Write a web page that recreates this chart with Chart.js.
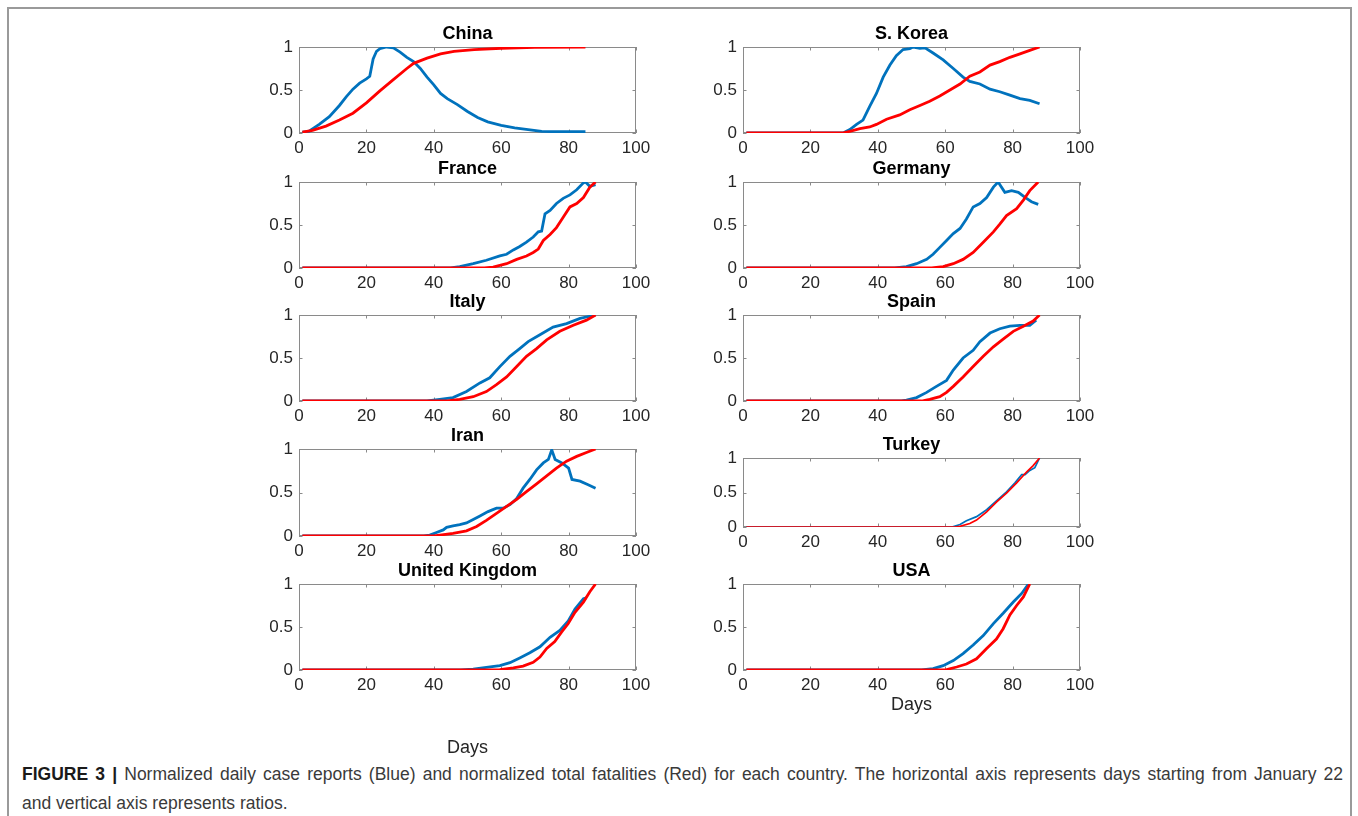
<!DOCTYPE html>
<html lang="en">
<head>
  <meta charset="UTF-8">
  <title>Figure 3 - normalized cases and fatalities</title>
  <script src="https://cdn.jsdelivr.net/npm/chart.js"></script>
  <style>
    body {
      margin: 0;
      background: #fff;
      font-family: "Liberation Sans", Arial, sans-serif;
      overflow: hidden;
    }
    #frame {
      position: absolute;
      left: 7px;
      top: 7px;
      width: 1341px;
      height: 830px;
      border: 2px solid #9a9a9a;
    }
    canvas {
      position: absolute;
    }
    #caption {
      position: absolute;
      left: 22px;
      top: 760px;
      width: 1321px;
      font-size: 17.5px;
      line-height: 29px;
      color: #3a3a3a;
    }
    #caption .l1 {
      text-align: justify;
      text-align-last: justify;
    }
    #caption b { color: #1a1a1a; }
  </style>
</head>
<body>
  <div id="frame"></div>
  <div id="caption">
    <div class="l1"><b>FIGURE 3 |</b> Normalized daily case reports (Blue) and normalized total fatalities (Red) for each country. The horizontal axis represents days starting from January 22</div>
    <div>and vertical axis represents ratios.</div>
  </div>

  <script>
    // [day, ratio] points
    const chinaCases = [[1,0.01],[3,0.02],[6,0.1],[9,0.19],[12,0.32],[14,0.42],[16,0.51],[18,0.58],[20,0.63],[21,0.66],[22,0.86],[23,0.95],[24,0.98],[26,1.0],[28,0.99],[30,0.94],[32,0.88],[34,0.83],[36,0.75],[38,0.65],[40,0.56],[42,0.46],[44,0.40],[47,0.33],[50,0.25],[53,0.18],[56,0.13],[60,0.09],[64,0.06],[68,0.04],[72,0.02],[76,0.015],[85,0.015]];
    const chinaDeaths = [[1,0.01],[4,0.03],[8,0.08],[12,0.15],[16,0.23],[20,0.35],[24,0.49],[28,0.62],[32,0.75],[34,0.81],[38,0.87],[42,0.92],[46,0.95],[52,0.97],[60,0.985],[70,0.995],[85,1.0]];

    const koreaCases = [[1,0],[29.7,0],[31.7,0.04],[33.7,0.10],[35.6,0.15],[37.6,0.31],[39.6,0.46],[41.6,0.65],[43.6,0.79],[45.5,0.90],[47.5,0.97],[49.5,0.98],[50.5,1.0],[52.5,0.985],[54,0.99],[56.4,0.93],[59.4,0.85],[62.4,0.75],[65.3,0.65],[67.3,0.60],[70.3,0.57],[73.3,0.51],[76.2,0.48],[79.2,0.44],[82.2,0.40],[85.1,0.38],[88,0.34]];
    const koreaDeaths = [[1,0],[28,0],[30,0.005],[31.7,0.02],[34.7,0.05],[37.6,0.07],[39.6,0.10],[42.6,0.16],[46.5,0.21],[49.5,0.27],[52.5,0.32],[55.4,0.37],[58.4,0.43],[61.4,0.50],[64.4,0.57],[67.3,0.66],[70.3,0.71],[73.3,0.79],[76.2,0.83],[79.2,0.88],[82.2,0.92],[85.1,0.96],[88,1.0]];

    const franceCases = [[1,0],[45,0],[47.7,0.015],[51.7,0.05],[55.6,0.09],[59.6,0.14],[61.6,0.16],[63.6,0.21],[65.5,0.25],[67.5,0.30],[69.5,0.36],[71,0.42],[72,0.43],[73,0.63],[74.5,0.67],[76.4,0.75],[78.4,0.81],[80.4,0.85],[82.4,0.91],[84.4,0.99],[85,1.0],[86.3,0.95],[88,0.97]];
    const franceDeaths = [[1,0],[55,0],[57.6,0.01],[61.6,0.05],[64.6,0.10],[67.5,0.14],[69.5,0.18],[71,0.22],[72.5,0.32],[74.5,0.39],[76.4,0.47],[78.4,0.59],[80.4,0.71],[82.4,0.75],[84.4,0.82],[86.3,0.94],[88,1.0]];

    const germanyCases = [[1,0],[45,0],[48.5,0.015],[51.5,0.05],[54.5,0.10],[56.4,0.16],[58.4,0.24],[60.4,0.32],[62.4,0.40],[64.4,0.46],[66.3,0.57],[68.3,0.71],[70.3,0.75],[72.3,0.82],[74.3,0.94],[75.7,1.0],[77.7,0.88],[79.7,0.90],[81.7,0.88],[83.7,0.82],[85.6,0.77],[87.6,0.74]];
    const germanyDeaths = [[1,0],[56,0],[59.4,0.015],[62.4,0.05],[65.3,0.10],[68.3,0.18],[71.3,0.30],[74.3,0.42],[76.2,0.51],[78.2,0.61],[81.2,0.69],[83.2,0.79],[85.1,0.90],[87.6,1.0]];

    const italyCases = [[1,0],[38,0],[41.8,0.02],[45.7,0.04],[49.7,0.11],[53.7,0.21],[56.6,0.27],[59.6,0.40],[62.6,0.52],[65.5,0.61],[68,0.69],[71.5,0.77],[75.4,0.86],[79.4,0.90],[83.4,0.96],[88,1.0]];
    const italyDeaths = [[1,0],[44,0],[47.7,0.02],[51.7,0.05],[55.6,0.11],[58.6,0.19],[61.6,0.28],[64.6,0.40],[67.5,0.52],[70.5,0.61],[73.5,0.71],[77.4,0.81],[81.4,0.88],[85.3,0.94],[88,1.0]];

    const spainCases = [[1,0],[47,0],[48.5,0.01],[51.5,0.04],[54.5,0.10],[57.4,0.17],[60.4,0.24],[62.4,0.36],[65.3,0.50],[68.3,0.59],[70.3,0.69],[73.3,0.79],[76.2,0.84],[79.2,0.87],[82.2,0.88],[85.1,0.88],[87,0.94]];
    const spainDeaths = [[1,0],[53,0],[55.4,0.02],[58.4,0.05],[60.4,0.10],[62.4,0.17],[65.3,0.28],[68.3,0.40],[71.3,0.52],[74.3,0.63],[77.2,0.72],[80.2,0.81],[83.2,0.87],[86.1,0.93],[88,1.0]];

    const iranCases = [[1,0],[37,0],[38.8,0.01],[40.8,0.04],[42.8,0.07],[43.8,0.10],[45.7,0.115],[47.7,0.13],[49.7,0.15],[51.7,0.19],[53.7,0.23],[56.1,0.28],[58.6,0.32],[60.6,0.32],[62.6,0.36],[64.6,0.43],[66.5,0.55],[68.5,0.65],[70.5,0.76],[72.5,0.84],[74,0.88],[75,0.99],[76,0.88],[78,0.84],[80,0.78],[81,0.65],[83.4,0.63],[85.8,0.59],[88,0.55]];
    const iranDeaths = [[1,0],[40,0],[41.8,0.01],[45.7,0.03],[49.7,0.06],[52.7,0.11],[55.6,0.18],[58.6,0.26],[61.6,0.34],[64.6,0.42],[67.5,0.51],[70.5,0.60],[73.5,0.69],[76.4,0.78],[79.4,0.86],[82.4,0.915],[85.3,0.96],[88,1.0]];

    const turkeyCases = [[1,0],[62,0],[64.4,0.035],[66.3,0.09],[69.3,0.15],[72.3,0.25],[75.2,0.38],[78.2,0.51],[80.7,0.64],[82.7,0.76],[83.7,0.76],[85.1,0.82],[86.6,0.86],[88,1.0]];
    const turkeyDeaths = [[1,0],[63,0],[64.4,0.01],[67.3,0.05],[69.3,0.10],[72.3,0.22],[75.2,0.36],[78.2,0.49],[81.2,0.64],[84.2,0.80],[86.1,0.89],[88,1.0]];

    const ukCases = [[1,0],[48,0],[51.7,0.01],[55.6,0.03],[59.6,0.05],[62.6,0.085],[65.5,0.14],[68.5,0.20],[71.5,0.27],[74.5,0.38],[77.4,0.46],[79.9,0.57],[81.9,0.71],[84.4,0.83],[85.3,0.84]];
    const ukDeaths = [[1,0],[56,0],[59.6,0.005],[63.6,0.025],[66.5,0.045],[69.5,0.09],[71.5,0.15],[73.5,0.25],[75.9,0.33],[77.9,0.44],[79.9,0.54],[81.9,0.67],[84.4,0.79],[86.3,0.91],[88,1.0]];

    const usaCases = [[1,0],[53,0],[56.4,0.015],[59.4,0.05],[62.4,0.11],[65.3,0.19],[68.3,0.29],[71.3,0.40],[74.3,0.54],[77.2,0.66],[80.2,0.79],[82.7,0.89],[84.7,1.0]];
    const usaDeaths = [[1,0],[58,0],[60.4,0.005],[63.4,0.035],[66.3,0.07],[69.3,0.13],[72.3,0.25],[75.2,0.36],[77.2,0.48],[79.2,0.64],[81.2,0.75],[83.2,0.85],[85.1,1.0]];

    const xTicks = [0, 20, 40, 60, 80, 100];
    const yTicks = [0, 0.5, 1];

    // panel layout: plot area left/top/width/height in page pixels
    const panels = [
      { name: "China",          cases: chinaCases,   deaths: chinaDeaths,   l: 299, t: 47,  w: 337, h: 86 },
      { name: "S. Korea",       cases: koreaCases,   deaths: koreaDeaths,   l: 743, t: 47,  w: 337, h: 86 },
      { name: "France",         cases: franceCases,  deaths: franceDeaths,  l: 299, t: 182, w: 337, h: 86 },
      { name: "Germany",        cases: germanyCases, deaths: germanyDeaths, l: 743, t: 182, w: 337, h: 86 },
      { name: "Italy",          cases: italyCases,   deaths: italyDeaths,   l: 299, t: 315, w: 337, h: 86 },
      { name: "Spain",          cases: spainCases,   deaths: spainDeaths,   l: 743, t: 315, w: 337, h: 86 },
      { name: "Iran",           cases: iranCases,    deaths: iranDeaths,    l: 299, t: 449, w: 337, h: 87 },
      { name: "Turkey",         cases: turkeyCases,  deaths: turkeyDeaths,  l: 743, t: 458, w: 337, h: 69, lw: 1.7 },
      { name: "United Kingdom", cases: ukCases,      deaths: ukDeaths,      l: 299, t: 584, w: 337, h: 86, xTitle: "Days", titleGap: 78 },
      { name: "USA",            cases: usaCases,     deaths: usaDeaths,     l: 743, t: 584, w: 337, h: 86, xTitle: "Days", titleGap: 35 }
    ];

    const FONT = '"Liberation Sans", Arial, sans-serif';
    const TITLE_H = 22;
    const SIDE = 60;

    // matlab style box with inward ticks
    const boxPlugin = {
      id: 'matlabBox',
      beforeDatasetsDraw(chart) {
        const { ctx, chartArea: a, scales } = chart;
        const len = 3.5;
        ctx.save();
        ctx.strokeStyle = '#8a8a8a';
        ctx.lineWidth = 1;
        ctx.strokeRect(a.left + 0.5, a.top + 0.5, a.right - a.left - 1, a.bottom - a.top - 1);
        ctx.beginPath();
        xTicks.forEach(v => {
          const px = Math.round(scales.x.getPixelForValue(v)) + 0.5;
          ctx.moveTo(px, a.bottom); ctx.lineTo(px, a.bottom - len);
          ctx.moveTo(px, a.top); ctx.lineTo(px, a.top + len);
        });
        yTicks.forEach(v => {
          const py = Math.round(scales.y.getPixelForValue(v)) + 0.5;
          ctx.moveTo(a.left, py); ctx.lineTo(a.left + len, py);
          ctx.moveTo(a.right, py); ctx.lineTo(a.right - len, py);
        });
        ctx.stroke();
        ctx.restore();
      }
    };

    const toXY = pts => pts.map(p => ({ x: p[0], y: p[1] }));

    panels.forEach(p => {
      const xh = p.xTitle ? p.titleGap + 14 : 30;
      const canvas = document.createElement('canvas');
      canvas.width = p.w + 2 * SIDE;
      canvas.height = TITLE_H + p.h + xh;
      canvas.style.left = (p.l - SIDE) + 'px';
      canvas.style.top = (p.t - TITLE_H) + 'px';
      document.body.appendChild(canvas);

      const lw = p.lw || 2.8;

      new Chart(canvas.getContext('2d'), {
        type: 'line',
        data: {
          datasets: [
            { label: 'Fatalities', data: toXY(p.deaths), borderColor: '#ff0000', borderWidth: lw, pointRadius: 0, tension: 0, fill: false },
            { label: 'Cases', data: toXY(p.cases), borderColor: '#0072bd', borderWidth: lw, pointRadius: 0, tension: 0, fill: false }
          ]
        },
        options: {
          responsive: false,
          animation: false,
          events: [],
          layout: { padding: { left: 0, right: SIDE, top: 0, bottom: 0 } },
          plugins: {
            legend: { display: false },
            tooltip: { enabled: false },
            title: {
              display: true,
              fullSize: false,
              text: p.name,
              color: '#000',
              font: { family: FONT, size: 18, weight: 'bold', lineHeight: 1 },
              padding: { top: 0, bottom: TITLE_H - 18 }
            }
          },
          scales: {
            x: {
              type: 'linear',
              min: 0,
              max: 100,
              grid: { display: false, drawTicks: false },
              border: { display: false },
              ticks: {
                stepSize: 20,
                autoSkip: false,
                maxRotation: 0,
                padding: 5,
                color: '#262626',
                font: { family: FONT, size: 17 }
              },
              title: {
                display: !!p.xTitle,
                text: p.xTitle || '',
                color: '#262626',
                font: { family: FONT, size: 18, lineHeight: 1 },
                padding: { top: 0, bottom: 14 - 9 }
              },
              afterFit(s) { s.height = xh; s.paddingLeft = 0; s.paddingRight = 0; }
            },
            y: {
              min: 0,
              max: 1,
              grid: { display: false, drawTicks: false },
              border: { display: false },
              ticks: {
                stepSize: 0.5,
                padding: 6,
                color: '#262626',
                font: { family: FONT, size: 17 },
                callback: v => String(v)
              },
              afterFit(s) { s.width = SIDE; s.paddingTop = 0; s.paddingBottom = 0; }
            }
          }
        },
        plugins: [boxPlugin]
      });
    });
  </script>
</body>
</html>
